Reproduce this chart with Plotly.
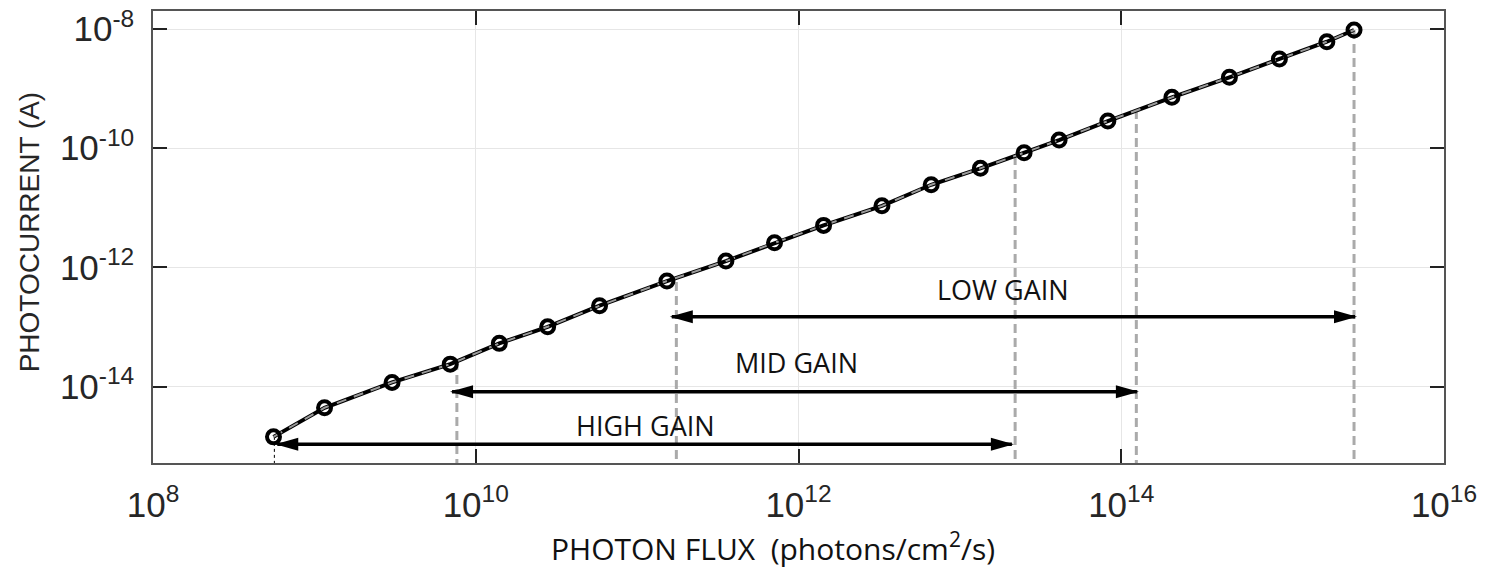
import numpy as np
import plotly.graph_objects as go

# ---- data ----
flux = [5.58e8, 1.156e9, 3.03e9, 6.95e9, 1.40e10, 2.79e10, 5.85e10, 1.53e11,
        3.55e11, 7.10e11, 1.43e12, 3.29e12, 6.64e12, 1.34e13, 2.50e13, 4.12e13,
        8.26e13, 2.06e14, 4.68e14, 9.55e14, 1.88e15, 2.77e15]
current = [1.44e-15, 4.43e-15, 1.18e-14, 2.39e-14, 5.33e-14, 1.01e-13, 2.28e-13,
           5.92e-13, 1.28e-12, 2.59e-12, 5.08e-12, 1.08e-11, 2.44e-11, 4.60e-11,
           8.41e-11, 1.37e-10, 2.86e-10, 7.14e-10, 1.55e-9, 3.14e-9, 6.12e-9, 9.62e-9]

# gain range boundaries (vertical guides): x and where they meet the curve
guide_x = [7.64e9, 1.75e11, 2.20e13, 1.24e14, 2.77e15]
guide_top = [2.69e-14, 5.69e-13, 7.40e-11, 4.38e-10, 9.62e-9]
start_guide_x = 5.65e8
start_guide_top = 1.44e-15

# gain ranges (arrows)
gain_names = ["HIGH GAIN", "MID GAIN", "LOW GAIN"]
gain_lo = [5.89e8, 7.13e9, 1.64e11]
gain_hi = [2.10e13, 1.25e14, 2.81e15]
gain_y = [1.08e-15, 8.20e-15, 1.49e-13]
label_x = [1.12e11, 9.68e11, 1.85e13]
label_y = [2.27e-15, 2.59e-14, 4.35e-13]

x_ticks = [1e8, 1e10, 1e12, 1e14, 1e16]
x_ticktext = ["10<sup>8</sup>", "10<sup>10</sup>", "10<sup>12</sup>", "10<sup>14</sup>", "10<sup>16</sup>"]
y_ticks = [1e-14, 1e-12, 1e-10, 1e-8]
y_ticktext = ["10<sup>-14</sup>", "10<sup>-12</sup>", "10<sup>-10</sup>", "10<sup>-8</sup>"]

Y_BOTTOM = 10 ** -15.28

fig = go.Figure()

# vertical guide lines
for gx, gt in zip(guide_x, guide_top):
    fig.add_trace(go.Scatter(x=[gx, gx], y=[gt, Y_BOTTOM], mode="lines",
                             line=dict(color="#aaaaaa", width=3, dash="9px,5px"),
                             hoverinfo="skip", showlegend=False))
fig.add_trace(go.Scatter(x=[start_guide_x, start_guide_x], y=[start_guide_top, Y_BOTTOM],
                         mode="lines", line=dict(color="black", width=1, dash="3px,3px"),
                         hoverinfo="skip", showlegend=False))

# arrow shafts and heads
shapes = []
for lo, hi, yy in zip(gain_lo, gain_hi, gain_y):
    fig.add_trace(go.Scatter(x=[lo, hi], y=[yy, yy], mode="lines",
                             line=dict(color="black", width=3.5),
                             hoverinfo="skip", showlegend=False))
    shapes.append(dict(type="path", xref="x", yref="y", xsizemode="pixel", ysizemode="pixel",
                       xanchor=hi, yanchor=yy, path="M2,0 L-21,6.5 L-21,-6.5 Z",
                       fillcolor="black", line=dict(width=0)))
    shapes.append(dict(type="path", xref="x", yref="y", xsizemode="pixel", ysizemode="pixel",
                       xanchor=lo, yanchor=yy, path="M-2,0 L21,6.5 L21,-6.5 Z",
                       fillcolor="black", line=dict(width=0)))

# measured curve
fig.add_trace(go.Scatter(x=flux, y=current, mode="lines",
                         line=dict(color="black", width=4),
                         hoverinfo="skip", showlegend=False))
fig.add_trace(go.Scatter(x=flux, y=current, mode="lines",
                         line=dict(color="#9a9a9a", width=2, dash="10px,8px"),
                         hoverinfo="skip", showlegend=False))
fig.add_trace(go.Scatter(x=flux, y=current, mode="markers",
                         marker=dict(symbol="circle-open", size=13, color="black",
                                     line=dict(color="black", width=4)),
                         hoverinfo="skip", showlegend=False))

annotations = []
for name, lx, ly in zip(gain_names, label_x, label_y):
    annotations.append(dict(x=np.log10(lx), y=np.log10(ly), xref="x", yref="y",
                            text=name, showarrow=False, xanchor="center", yanchor="middle",
                            font=dict(family="Open Sans", size=27, color="#111111")))

annotations.append(dict(x=0.4804, y=-0.186, xref="paper", yref="paper",
                        text="PHOTON FLUX\u00a0\u00a0(photons/cm<sup>2</sup>/s)", showarrow=False,
                        xanchor="center", yanchor="middle",
                        font=dict(family="Open Sans", size=30, color="#111111")))
annotations.append(dict(x=-0.0958, y=0.511, xref="paper", yref="paper",
                        text="PHOTOCURRENT (A)", showarrow=False, textangle=-90,
                        xanchor="center", yanchor="middle",
                        font=dict(family="Liberation Sans, Arial", size=28, color="#262626")))

axis_common = dict(showline=True, linecolor="#555555", linewidth=1.5, mirror="ticks",
                   ticks="inside", ticklen=14, tickwidth=2, tickcolor="#222222",
                   showgrid=True, gridcolor="#e6e6e6", gridwidth=1, zeroline=False,
                   automargin=False,
                   tickfont=dict(family="Liberation Sans, Arial", size=35, color="#262626"))

fig.update_xaxes(type="log", range=[8, 16], tickvals=x_ticks, ticktext=x_ticktext,
                 ticklabelstandoff=10, **axis_common)
fig.update_yaxes(type="log", range=[-15.28, -7.698], tickvals=y_ticks, ticktext=y_ticktext,
                 ticklabelstandoff=10, **axis_common)

fig.update_layout(width=1486, height=570, margin=dict(l=153, r=42, t=11, b=107),
                  plot_bgcolor="white", paper_bgcolor="white",
                  shapes=shapes, annotations=annotations, showlegend=False)

fig.write_html("out.html")
